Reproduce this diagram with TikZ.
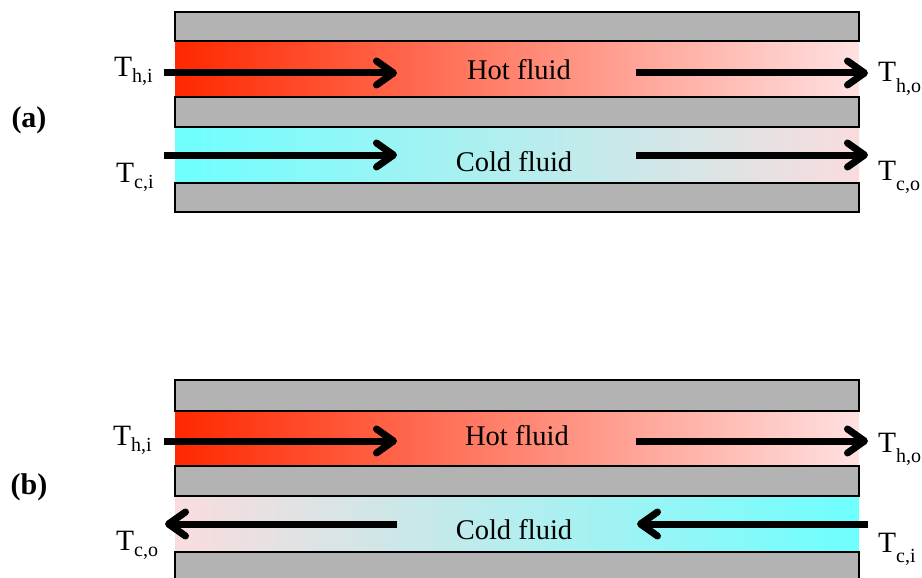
\documentclass[tikz,border=0pt]{standalone}
\usepackage{fontspec}
\setmainfont{Liberation Serif}
\usetikzlibrary{arrows.meta}
\definecolor{hotL}{RGB}{255,40,0}
\definecolor{hotM}{RGB}{255,112,112}
\definecolor{hotR}{RGB}{255,225,225}
\definecolor{coldC}{RGB}{110,255,255}
\definecolor{coldM}{RGB}{180,238,240}
\definecolor{coldP}{RGB}{250,220,222}
\definecolor{wallgray}{RGB}{179,179,179}
\newcommand{\Tl}[1]{T\raisebox{-6pt}{\fontsize{20}{20}\selectfont #1}}
\newcommand{\Tr}[1]{T\raisebox{-10pt}{\fontsize{20}{20}\selectfont #1}}
\tikzset{
  wall/.style={fill=wallgray, draw=black, line width=1.8pt},
  flow/.style={line width=7pt, -{Straight Barb[round,length=17pt,width=24pt]}},
  lbl/.style={font=\fontsize{29.5}{29.5}\selectfont, inner sep=0pt, anchor=base west},
  txt/.style={font=\fontsize{28.5}{28.5}\selectfont, inner sep=0pt},
  tag/.style={font=\fontsize{30}{30}\selectfont\bfseries, inner sep=0pt}
}
\begin{document}
\begin{tikzpicture}[x=1pt,y=-1pt]
\clip (0,0) rectangle (922,578);
\fill[white] (0,0) rectangle (922,578);
% ---------- (a) parallel flow ----------
\shade[left color=hotL, middle color=hotM, right color=hotR] (175,41) rectangle (859,98);
\shade[left color=coldC, middle color=coldM, right color=coldP] (175,126) rectangle (859,184);
\draw[wall] (175,12) rectangle (859,41);
\draw[wall] (175,97) rectangle (859,127);
\draw[wall] (175,183) rectangle (859,212);
% ---------- (b) counter flow ----------
\shade[left color=hotL, middle color=hotM, right color=hotR] (175,410) rectangle (859,467);
\shade[left color=coldP, middle color=coldM, right color=coldC] (175,495) rectangle (859,553);
\draw[wall] (175,380) rectangle (859,411);
\draw[wall] (175,466) rectangle (859,496);
\draw[wall] (175,552) rectangle (859,590);
% ---------- texts ----------
\node[txt] (hfa) at (519,70) {Hot fluid};
\node[txt] (cfa) at (514,162) {Cold fluid};
\node[txt] (hfb) at (517,436) {Hot fluid};
\node[txt] (cfb) at (514,530) {Cold fluid};
\node[tag] (la) at (29,120) {(a)};
\node[tag] (lb) at (29,487) {(b)};
\node[lbl] (thia) at (114,77) {\Tl{h,i}};
\node[lbl] (tcia) at (116,182) {\Tl{c,i}};
\node[lbl] (thoa) at (878,82) {\Tr{h,o}};
\node[lbl] (tcoa) at (878,180) {\Tr{c,o}};
\node[lbl] (thib) at (113,445) {\Tl{h,i}};
\node[lbl] (tcob) at (116,550) {\Tl{c,o}};
\node[lbl] (thob) at (878,452) {\Tr{h,o}};
\node[lbl] (tcib) at (878,552) {\Tr{c,i}};
% ---------- arrow end points ----------
\coordinate (a1s) at (164,73);  \coordinate (a1e) at (397,73);
\coordinate (a2s) at (636,73);  \coordinate (a2e) at (868,73);
\coordinate (a3s) at (164,155); \coordinate (a3e) at (397,155);
\coordinate (a4s) at (636,155); \coordinate (a4e) at (868,155);
\coordinate (b1s) at (164,441); \coordinate (b1e) at (397,441);
\coordinate (b2s) at (636,441); \coordinate (b2e) at (868,441);
\coordinate (b3s) at (397,524); \coordinate (b3e) at (165,524);
\coordinate (b4s) at (868,524); \coordinate (b4e) at (637,524);
\draw[flow] (a1s) -- (a1e);
\draw[flow] (a2s) -- (a2e);
\draw[flow] (a3s) -- (a3e);
\draw[flow] (a4s) -- (a4e);
\draw[flow] (b1s) -- (b1e);
\draw[flow] (b2s) -- (b2e);
\draw[flow] (b3s) -- (b3e);
\draw[flow] (b4s) -- (b4e);
\end{tikzpicture}
\end{document}
